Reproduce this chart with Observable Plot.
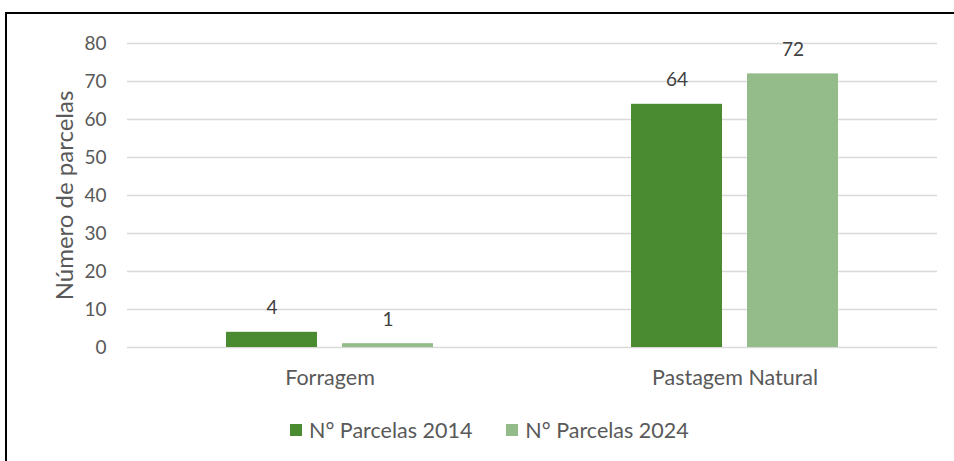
<!DOCTYPE html>
<html>
<head>
<meta charset="utf-8">
<script src="https://cdn.jsdelivr.net/npm/d3@7"></script>
<script src="https://cdn.jsdelivr.net/npm/@observablehq/plot@0.6"></script>
<style>
  html, body { margin: 0; padding: 0; background: #fff; }
  body { width: 954px; height: 461px; position: relative; overflow: hidden; font-family: Lato, "Open Sans", sans-serif; }
  #frame { position: absolute; left: 5px; top: 12px; width: 1000px; height: 500px; border-top: 2px solid #000; border-left: 2px solid #000; pointer-events: none; }
  #chart { position: absolute; left: 0; top: 0; }
  #legend { position: absolute; left: 290px; top: 417px; display: flex; align-items: center; font-size: 21.5px; color: #595959; white-space: nowrap; }
  .item { display: flex; align-items: center; margin-right: 34px; }
  .sw { width: 12px; height: 12px; margin-right: 7px; }
</style>
</head>
<body>
<div id="chart"></div>
<div id="legend"></div>
<div id="frame"></div>
<script>
const categories = ["Forragem", "Pastagem Natural"];
const series = ["N° Parcelas 2014", "N° Parcelas 2024"];
const values2014 = [4, 64];
const values2024 = [1, 72];
const yTicks = [0, 10, 20, 30, 40, 50, 60, 70, 80];
const colors = ["#4a8a31", "#94bb8a"];

const data = [];
categories.forEach((c, i) => {
  data.push({category: c, series: series[0], value: values2014[i]});
  data.push({category: c, series: series[1], value: values2024[i]});
});

const plot = Plot.plot({
  width: 954,
  height: 400,
  marginTop: 43,
  marginBottom: 53,
  marginLeft: 127,
  marginRight: 17,
  style: {fontFamily: "Lato, 'Open Sans', sans-serif", fontSize: "19px", color: "#595959", background: "transparent"},
  fx: {domain: categories, padding: 0, label: null, axis: null},
  x: {domain: series, paddingInner: 0.2155, paddingOuter: 0.853, axis: null},
  y: {domain: [0, 80], axis: null},
  color: {domain: series, range: colors},
  marks: [
    Plot.gridY(yTicks, {stroke: "#d9d9d9", strokeOpacity: 1, strokeWidth: 1.6}),
    Plot.axisY(yTicks, {label: "Número de parcelas", labelAnchor: "center", labelArrow: "none", labelOffset: 72, tickSize: 0, tickPadding: 21, fontSize: 19, fill: "#595959"}),
    Plot.axisFx({anchor: "bottom", label: null, tickSize: 0, tickPadding: 22, fontSize: 21.5, fill: "#595959"}),
    Plot.barY(data, {fx: "category", x: "series", y: "value", fill: "series"}),
    Plot.text(data, {fx: "category", x: "series", y: "value", text: d => String(d.value), dy: -24, fill: "#404040", fontSize: 19})
  ]
});
document.getElementById("chart").appendChild(plot);

// enlarge y-axis title
d3.select(plot).selectAll("[aria-label='y-axis label'] text").attr("font-size", 24).style("font-size", "24px").attr("fill", "#595959");

const legend = document.getElementById("legend");
series.forEach((s, i) => {
  const item = document.createElement("div");
  item.className = "item";
  const sw = document.createElement("span");
  sw.className = "sw";
  sw.style.background = colors[i];
  const t = document.createElement("span");
  t.textContent = s;
  item.appendChild(sw);
  item.appendChild(t);
  legend.appendChild(item);
});
</script>
</body>
</html>
